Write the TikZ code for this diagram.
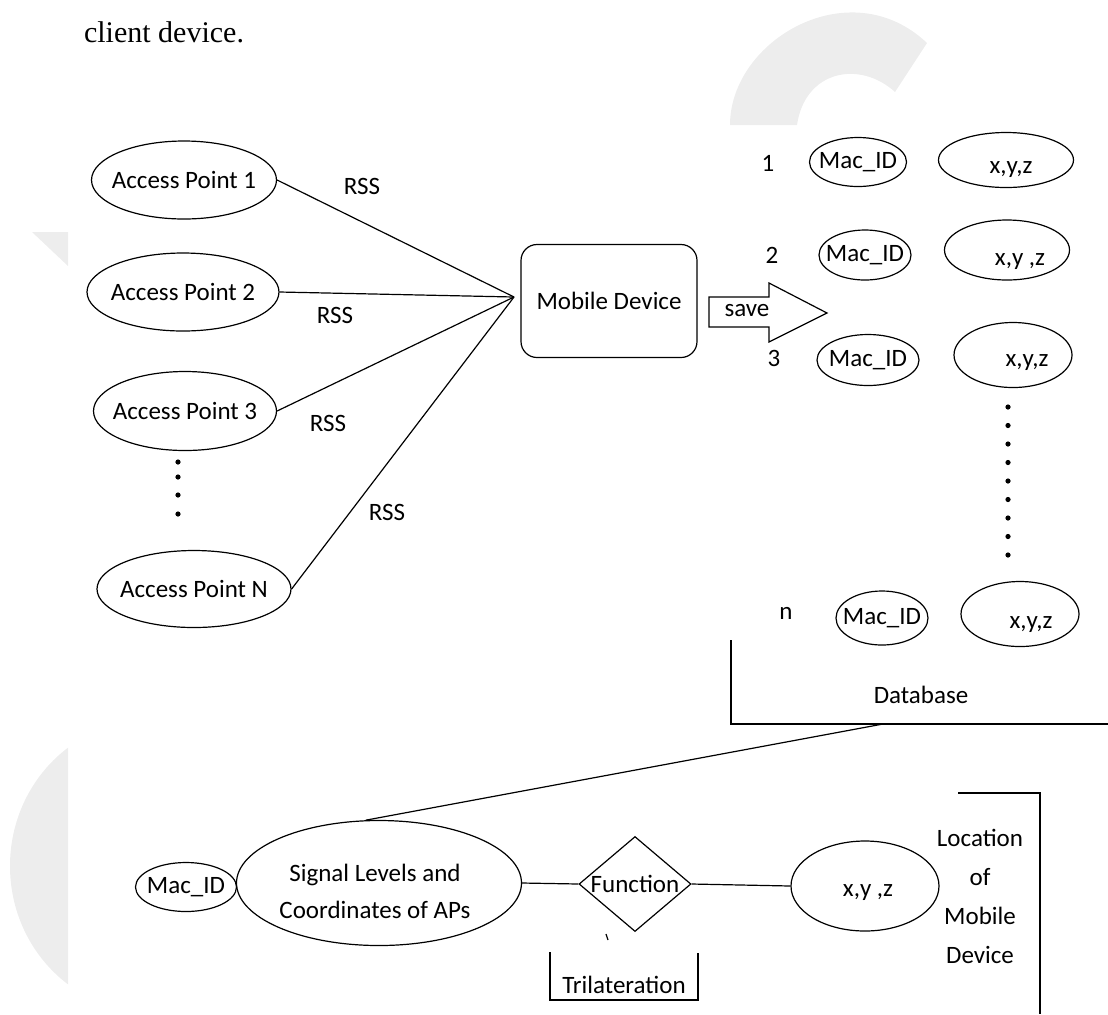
\documentclass[tikz,border=0pt]{standalone}
\usepackage{fontspec}
\setmainfont{Carlito}
\newfontfamily\titlefont{Liberation Serif}
\usetikzlibrary{shapes.geometric, positioning, calc}
\tikzset{
	every node/.style={
		align=center,
		font=\fontsize{12.5}{15}\selectfont,
	},
}
\tikzset{
	oval-node/.style 2 args={
		ellipse,
		draw=black, line width=0.6pt,
		inner sep=0pt, inner xsep=-8pt,
		minimum width=#1,
		minimum height=#2,
	},
	box-node/.style={
		rectangle,
		rounded corners=8pt,
		draw=black, line width=0.6pt,
		minimum width=88pt,
		minimum height=56.5pt,
	},
	choice-node/.style={
		diamond,
		draw=black, line width=0.6pt,
		inner sep=0pt,
		minimum width=56pt,
		minimum height=47.5pt,
	},
	edge-style/.style = {line width=0.6pt},
	wm-fill/.style = {fill=black!7},
	title-text/.style = {anchor=base west, font=\titlefont\fontsize{15}{18}\selectfont},
}

\begin{document}
\begin{tikzpicture}[x=0.5pt, y=-0.5pt]
	\useasboundingbox (0,0) rectangle (1108,1014);
	% page watermark
	\fill[wm-fill] (730,125) .. controls (730,40) and (850,-30) .. (927,43) -- (895,92) .. controls (860,60) and (805,70) .. (797,125) -- cycle;
	\fill[wm-fill] (32,232) -- (68,232) -- (68,266) -- cycle;
	\begin{scope}
		\clip (0,700) rectangle (68,1014);
		\fill[wm-fill] (150,866) ellipse [x radius=140, y radius=146];
	\end{scope}

	\node[title-text] (title) at (77,42) {client device.};

	% access points
	\node (ap1) [oval-node={92.5pt}{39pt}] at (184,180) {Access Point 1};
	\node (ap2) [oval-node={96pt}{39pt}] at (183,292) {Access Point 2};
	\node (ap3) [oval-node={91.5pt}{39.5pt}] at (185,411) {Access Point 3};
	\node (apN) [oval-node={97pt}{38.5pt}] at (194,589) {Access Point N};
	\foreach \y in {462,477,495,514}
		\fill (178,\y) circle[radius=1.3pt];

	\node (mob) [box-node] at (609,301) {Mobile Device};
	\coordinate (hub) at (514,297);
	\draw[edge-style] (ap1.east) -- (hub);
	\draw[edge-style] (ap2.east) -- (hub);
	\draw[edge-style] (ap3.east) -- (hub);
	\draw[edge-style] (apN.east) -- (hub);
	\node (rss1) at (362,186) {RSS};
	\node (rss2) at (335,315) {RSS};
	\node (rss3) at (328,423) {RSS};
	\node (rssN) at (387,512) {RSS};

	\draw[edge-style] (709,297) -- (769,297) -- (769,283) -- (827,313) -- (769,342) -- (769,327) -- (709,327) -- cycle;
	\node (save) at (747,311) {save};

	% database rows
	\node (row1) at (768,163) {1};
	\node (row2) at (772,255) {2};
	\node (row3) at (774,358) {3};
	\node (rown) at (786,613) {n};
	\node (mac1) [oval-node={48.5pt}{24.5pt}] at (858,162) {Mac\_ID};
	\node (mac2) [oval-node={46pt}{25pt}] at (865,255) {Mac\_ID};
	\node (mac3) [oval-node={51pt}{25.5pt}] at (868,360) {Mac\_ID};
	\node (macn) [oval-node={46pt}{27pt}] at (882,618) {Mac\_ID};
	\node (xyz1) [oval-node={67.5pt}{27.5pt}, label={[xshift=2.5pt, yshift=-5pt]center:{x,y,z}}] at (1006,160) {};
	\node (xyz2) [oval-node={62.5pt}{30pt}, label={[xshift=6.5pt, yshift=-6pt]center:{x,y ,z}}] at (1007,250) {};
	\node (xyz3) [oval-node={59pt}{32.5pt}, label={[xshift=7pt, yshift=-4pt]center:{x,y,z}}] at (1013,355) {};
	\node (xyzn) [oval-node={59pt}{32.5pt}, label={[xshift=5.5pt, yshift=-5.5pt]center:{x,y,z}}] at (1020,614) {};
	\foreach \i in {0,...,8}
		\fill (1008,{407+18.5*\i}) circle[radius=1.3pt];
	\node (db) at (921,695) {Database};
	\draw[edge-style] (731,640) |- (1108,724);

	% trilateration
	\node (mac0) [oval-node={50.5pt}{24.5pt}] at (186,887) {Mac\_ID};
	\node (sig) [oval-node={142.5pt}{62.5pt}, label={[xshift=-2pt, yshift=-4pt, font=\fontsize{12.5}{18.5}\selectfont]center:Signal Levels and\\Coordinates of APs}] at (379,883) {};
	\node (fun) [choice-node, label=center:Function] at (635,884) {};
	\node (loc) [oval-node={74pt}{45pt}, label={[xshift=1.5pt, yshift=-3.5pt]center:{x,y ,z}}] at (865,886) {};
	\draw[edge-style] (883,724) -- (sig.102);
	\draw[edge-style] (sig.east) -- (fun.west);
	\draw[edge-style] (fun.east) -- (loc.west);
	\draw[edge-style] (606,934) -- (608,940);
	\node (loctext) [font=\fontsize{12.5}{19.5}\selectfont] at (980,896) {Location\\of\\Mobile\\Device};
	\draw[edge-style] (958,793) -| (1040,1014);
	\node (tri) at (624,985) {Trilateration};
	\draw[edge-style] (550,952) |- (698,1000) -- (698,953);
\end{tikzpicture}
\end{document}
